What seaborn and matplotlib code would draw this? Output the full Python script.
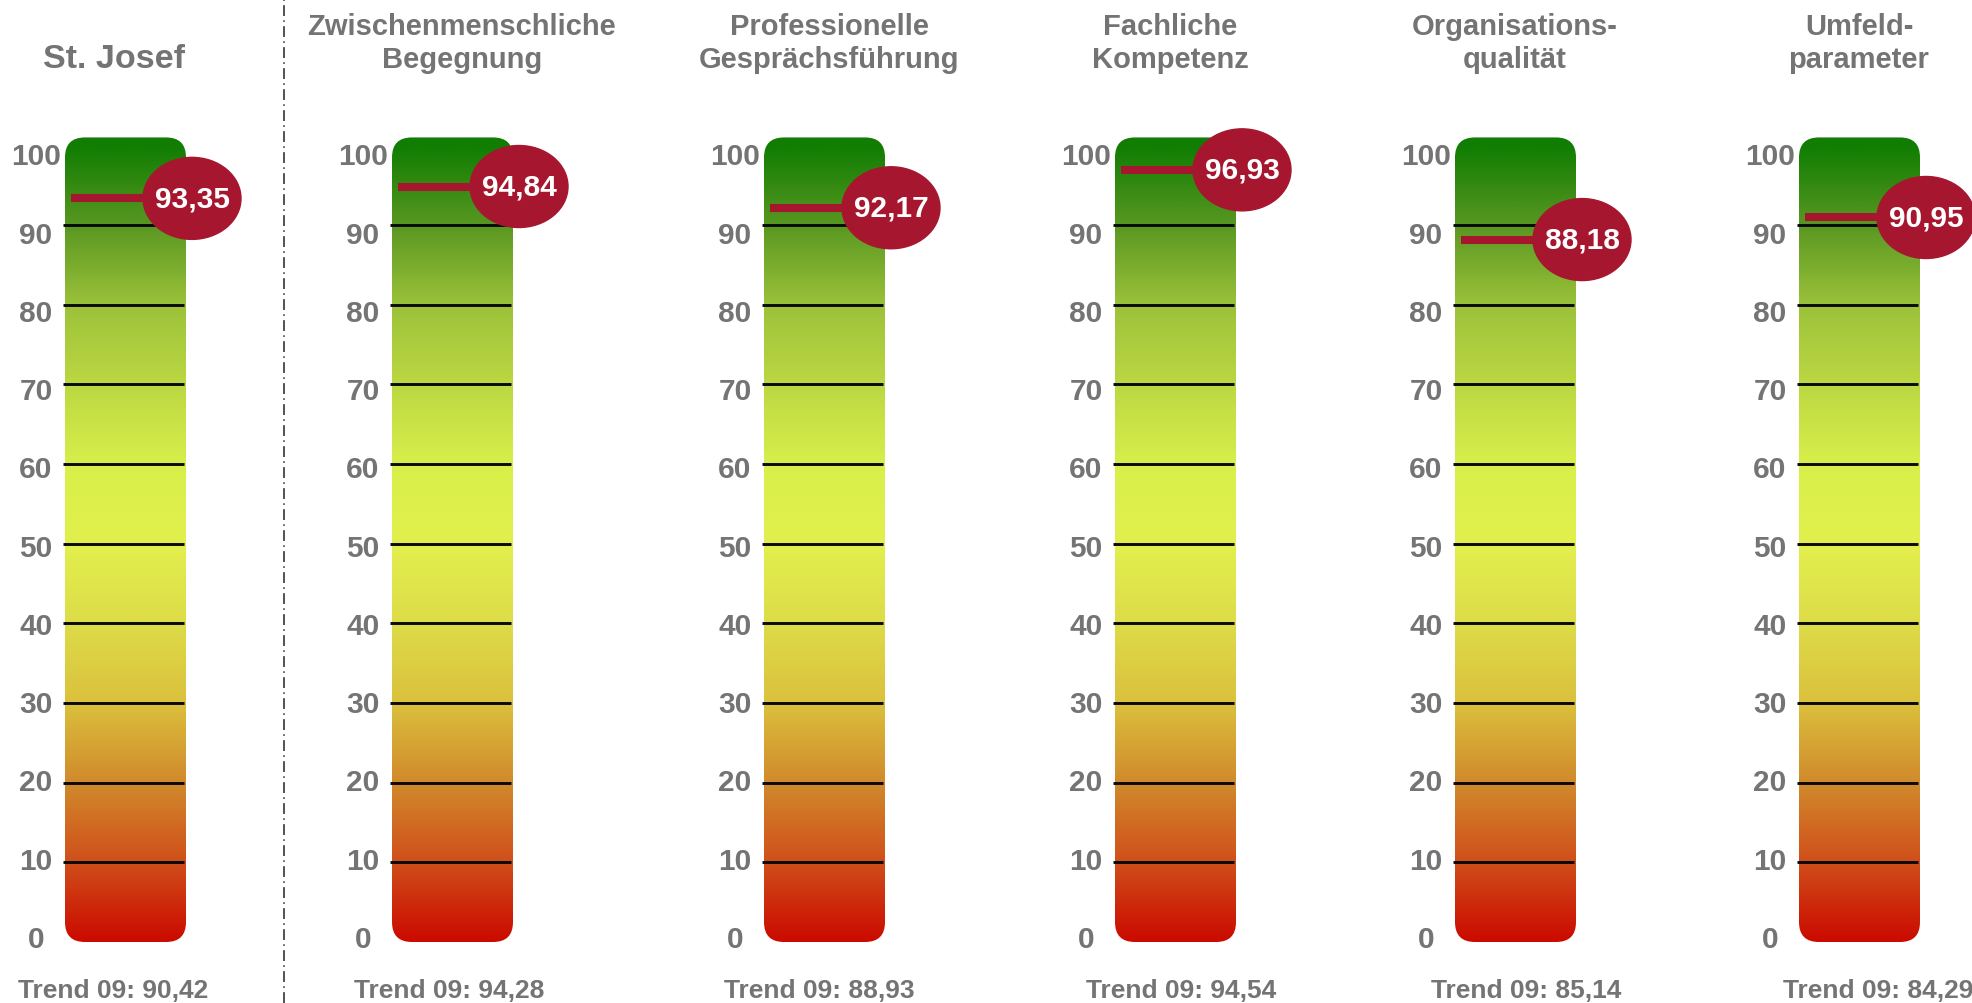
import numpy as np
import matplotlib
matplotlib.use("Agg")
import matplotlib.pyplot as plt
import seaborn as sns
from matplotlib.patches import FancyBboxPatch, Ellipse
from matplotlib.lines import Line2D

# data
categories = ["St. Josef",
              "Zwischenmenschliche\nBegegnung",
              "Professionelle\nGesprächsführung",
              "Fachliche\nKompetenz",
              "Organisations-\nqualität",
              "Umfeld-\nparameter"]
scores = [93.35, 94.84, 92.17, 96.93, 88.18, 90.95]
trend_09 = [90.42, 94.28, 88.93, 94.54, 85.14, 84.29]
scale_ticks = [0, 10, 20, 30, 40, 50, 60, 70, 80, 90, 100]
grid_levels = [10, 20, 30, 40, 50, 60, 70, 80, 90]
# colour of the scale at 0, 10, ..., 100
gradient_colors = ["#cb0b00", "#d0501b", "#d18b2c", "#dbc13d", "#dddc48",
                   "#e2f04d", "#d8ef4a", "#bcd842", "#9cc23a", "#5a9822",
                   "#117d03"]

# layout, in pixels of the 1972x1004 picture
W_PX, H_PX = 1972, 1004
PX_PER_UNIT = 7.966
ZERO_Y = 943
BAR_W_PX = 121
bar_left_px = [65, 392, 764, 1115, 1455, 1799]
title_x_px = [114, 462, 829, 1170, 1515, 1859]
trend_x_px = [113, 449, 819, 1181, 1526, 1878]
SEPARATOR_X = 284

RED = "#a6172f"
GREY = "#747474"


def px(d):
    return d / PX_PER_UNIT


def fmt(v):
    return f"{v:.2f}".replace(".", ",")


sns.set_theme(style="white")
plt.rcParams["font.family"] = ["Liberation Sans", "DejaVu Sans"]

fig = plt.figure(figsize=(W_PX / 100, H_PX / 100), dpi=100)
cmap = sns.blend_palette(gradient_colors, as_cmap=True)

y_bottom = (ZERO_Y - H_PX) / PX_PER_UNIT
y_top = ZERO_Y / PX_PER_UNIT
bar_w = px(BAR_W_PX)
ramp = np.linspace(0, 101, 500).reshape(-1, 1)

for i, label in enumerate(categories):
    ax = fig.add_axes([bar_left_px[i] / W_PX, 0, BAR_W_PX / W_PX, 1])
    ax.patch.set_alpha(0)

    # thermometer body with colour gradient
    box = FancyBboxPatch((0, 0), bar_w, 101,
                         boxstyle="round,pad=0,rounding_size=2.5",
                         facecolor="none", edgecolor="none")
    ax.add_patch(box)
    im = ax.imshow(ramp, extent=(0, bar_w, 0, 101), origin="lower",
                   cmap=cmap, vmin=0, vmax=100, aspect="auto",
                   interpolation="bilinear")
    im.set_clip_path(box)

    # scale lines
    ax.hlines(grid_levels, px(-2), bar_w - px(2), color="#0a0a0a",
              lw=2.1, clip_on=False, zorder=3)

    # score marker
    v = scores[i]
    cx = bar_w + px(6)
    ax.plot([px(6), cx], [v, v], color=RED, lw=5.8,
            solid_capstyle="butt", clip_on=False, zorder=4)
    ax.add_patch(Ellipse((cx, v), px(98), px(82), color=RED,
                         clip_on=False, zorder=5))
    ax.text(cx, v, fmt(v), ha="center", va="center", color="white",
            fontsize=21.5, fontweight="bold", zorder=6)

    # axis
    ax.set_xlim(0, bar_w)
    ax.set_ylim(y_bottom, y_top)
    ax.set_xticks([])
    label_pos = [0.9824 * t + 0.377 for t in scale_ticks]
    ax.set_yticks(label_pos, [str(t) for t in scale_ticks], ha="center",
                  va="center", fontsize=21.5, fontweight="bold", color=GREY)
    ax.tick_params(axis="y", length=0, pad=29 * 0.72)
    sns.despine(ax=ax, left=True, bottom=True)

    # title
    tx = px(title_x_px[i] - bar_left_px[i])
    lines = label.split("\n")
    if len(lines) == 1:
        ax.text(tx, (ZERO_Y - 68) / PX_PER_UNIT, lines[0], ha="center",
                va="baseline", fontsize=24.5, fontweight="bold", color=GREY)
    else:
        for j, line in enumerate(lines):
            base = 35 + 33 * j
            ax.text(tx, (ZERO_Y - base) / PX_PER_UNIT, line, ha="center",
                    va="baseline", fontsize=21, fontweight="bold", color=GREY)

    # trend of 2009
    ax.text(px(trend_x_px[i] - bar_left_px[i]), (ZERO_Y - 998) / PX_PER_UNIT,
            "Trend 09: " + fmt(trend_09[i]), ha="center", va="baseline",
            fontsize=19, fontweight="bold", color=GREY)

# dash-dot separator after the overall score
fig.add_artist(Line2D([SEPARATOR_X / W_PX] * 2, [0, 1],
                      transform=fig.transFigure, color="#333333", lw=1.2,
                      linestyle=(0, (6.5, 2.6, 0.9, 2.6))))

fig.savefig("out.png", dpi=100)
